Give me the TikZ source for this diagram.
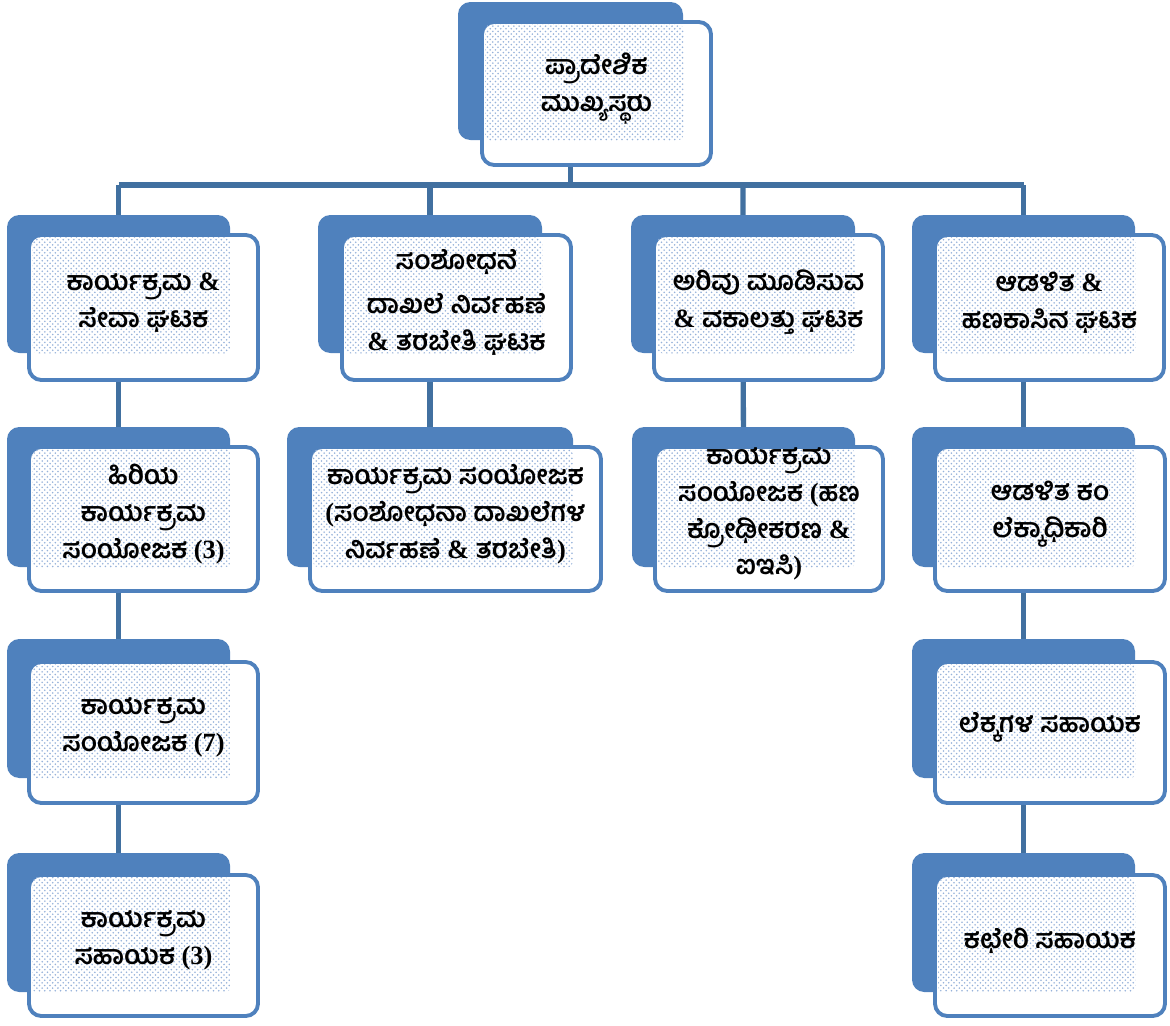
\documentclass[tikz,border=0pt]{standalone}
\usepackage{fontspec}
\usetikzlibrary{calc, positioning, fit, backgrounds, patterns}
\newfontfamily\kannada[Script=Kannada]{Hind Mysuru}
\newfontfamily\timesfont{Liberation Serif}
\newcommand{\lat}[1]{{\timesfont #1}}
\definecolor{boxblue}{RGB}{79,129,189}
\definecolor{lineblue}{RGB}{65,112,160}
\definecolor{dotblue}{RGB}{150,178,218}

\begin{document}
\begin{tikzpicture}[x=0.02cm, y=-0.02cm,
    backbox/.style={fill=boxblue, rounded corners=7pt, inner sep=0pt},
    frontbox/.style={draw=boxblue, line width=2.2pt, fill=white, rounded corners=7pt, inner sep=0pt},
    dotfill/.style={pattern=crosshatch dots, pattern color=dotblue, rounded corners=3pt},
    unittext/.style={font=\kannada\bfseries\fontsize{15}{21}\selectfont, align=center, inner sep=0pt},
    orgline/.style={lineblue, line width=3pt}]
    \useasboundingbox (0,0) rectangle (1170,1025);

    % Regional head
    \node[backbox, fit={(458,2) (683,140)}] (hqb) {};
    \node[frontbox, fit={(482,22) (711,165)}] (hq) {};
    \path[dotfill] ($(hq.north west)+(5,4)$) rectangle (hqb.south east);
    \node[unittext] (hqt) at ($(hq.center)+(0,-5)$) {ಪ್ರಾದೇಶಿಕ\\ಮುಖ್ಯಸ್ಥರು};

    % Units
    \node[backbox, fit={(7,215) (230,353)}] (progb) {};
    \node[frontbox, fit={(29,235) (258,380)}] (prog) {};
    \path[dotfill] ($(prog.north west)+(5,4)$) rectangle (progb.south east);
    \node[unittext] (progt) at ($(prog.center)+(0,-5)$) {ಕಾರ್ಯಕ್ರಮ \lat{\&}\\ಸೇವಾ ಘಟಕ};

    \node[backbox, fit={(318,215) (542,353)}] (resb) {};
    \node[frontbox, fit={(342,235) (571,380)}] (res) {};
    \path[dotfill] ($(res.north west)+(5,4)$) rectangle (resb.south east);
    \node[unittext] (rest) at ($(res.center)+(0,-5)$) {ಸಂಶೋಧನೆ\\[4pt]ದಾಖಲೆ ನಿರ್ವಹಣೆ\\\lat{\&} ತರಬೇತಿ ಘಟಕ};

    \node[backbox, fit={(631,215) (855,353)}] (awareb) {};
    \node[frontbox, fit={(654,235) (883,380)}] (aware) {};
    \path[dotfill] ($(aware.north west)+(5,4)$) rectangle (awareb.south east);
    \node[unittext] (awaret) at ($(aware.center)+(0,-5)$) {ಅರಿವು ಮೂಡಿಸುವ\\\lat{\&} ವಕಾಲತ್ತು ಘಟಕ};

    \node[backbox, fit={(912,215) (1135,353)}] (adminb) {};
    \node[frontbox, fit={(935,235) (1164,380)}] (admin) {};
    \path[dotfill] ($(admin.north west)+(5,4)$) rectangle (adminb.south east);
    \node[unittext] (admint) at ($(admin.center)+(0,-5)$) {ಆಡಳಿತ \lat{\&}\\ಹಣಕಾಸಿನ ಘಟಕ};

    % Second row
    \node[backbox, fit={(7,427) (230,567)}] (sprogb) {};
    \node[frontbox, fit={(29,447) (258,591)}] (sprog) {};
    \path[dotfill] ($(sprog.north west)+(5,4)$) rectangle (sprogb.south east);
    \node[unittext] (sprogt) at ($(sprog.center)+(0,-5)$) {ಹಿರಿಯ\\ಕಾರ್ಯಕ್ರಮ\\ಸಂಯೋಜಕ \lat{(3)}};

    \node[backbox, fit={(287,427) (573,567)}] (rcoordb) {};
    \node[frontbox, fit={(310,447) (601,591)}] (rcoord) {};
    \path[dotfill] ($(rcoord.north west)+(5,4)$) rectangle (rcoordb.south east);
    \node[unittext] (rcoordt) at ($(rcoord.center)+(0,-5)$) {ಕಾರ್ಯಕ್ರಮ ಸಂಯೋಜಕ\\\lat{(}ಸಂಶೋಧನಾ ದಾಖಲೆಗಳ\\ನಿರ್ವಹಣೆ \lat{\&} ತರಬೇತಿ\lat{)}};

    \node[backbox, fit={(632,427) (855,567)}] (fcoordb) {};
    \node[frontbox, fit={(655,447) (883,591)}] (fcoord) {};
    \path[dotfill] ($(fcoord.north west)+(5,4)$) rectangle (fcoordb.south east);
    \node[unittext] (fcoordt) at ($(fcoord.center)+(0,-5)$) {ಕಾರ್ಯಕ್ರಮ\\ಸಂಯೋಜಕ \lat{(}ಹಣ\\ಕ್ರೋಢೀಕರಣ \lat{\&}\\ಐಇಸಿ\lat{)}};

    \node[backbox, fit={(912,427) (1135,567)}] (acctb) {};
    \node[frontbox, fit={(935,447) (1165,591)}] (acct) {};
    \path[dotfill] ($(acct.north west)+(5,4)$) rectangle (acctb.south east);
    \node[unittext] (acctt) at ($(acct.center)+(0,-5)$) {ಆಡಳಿತ ಕಂ\\ಲೆಕ್ಕಾಧಿಕಾರಿ};

    % Third row
    \node[backbox, fit={(7,639) (230,778)}] (pcoordb) {};
    \node[frontbox, fit={(29,662) (258,803)}] (pcoord) {};
    \path[dotfill] ($(pcoord.north west)+(5,4)$) rectangle (pcoordb.south east);
    \node[unittext] (pcoordt) at ($(pcoord.center)+(0,-5)$) {ಕಾರ್ಯಕ್ರಮ\\ಸಂಯೋಜಕ \lat{(7)}};

    \node[backbox, fit={(912,639) (1135,778)}] (accasstb) {};
    \node[frontbox, fit={(935,662) (1165,803)}] (accasst) {};
    \path[dotfill] ($(accasst.north west)+(5,4)$) rectangle (accasstb.south east);
    \node[unittext] (accasstt) at ($(accasst.center)+(0,-5)$) {ಲೆಕ್ಕಗಳ ಸಹಾಯಕ};

    % Fourth row
    \node[backbox, fit={(7,853) (230,992)}] (passtb) {};
    \node[frontbox, fit={(29,875) (258,1016)}] (passt) {};
    \path[dotfill] ($(passt.north west)+(5,4)$) rectangle (passtb.south east);
    \node[unittext] (passtt) at ($(passt.center)+(0,-5)$) {ಕಾರ್ಯಕ್ರಮ\\ಸಹಾಯಕ \lat{(3)}};

    \node[backbox, fit={(912,853) (1135,992)}] (offasstb) {};
    \node[frontbox, fit={(935,875) (1165,1016)}] (offasst) {};
    \path[dotfill] ($(offasst.north west)+(5,4)$) rectangle (offasstb.south east);
    \node[unittext] (offasstt) at ($(offasst.center)+(0,-5)$) {ಕಛೇರಿ ಸಹಾಯಕ};

    % Connectors
    \begin{scope}[on background layer]
        \coordinate (bus) at (0,185);
        \draw[orgline] (hqb.center) -- (hqb.center |- bus);
        \draw[orgline] (progb.center |- bus) -- (adminb.center |- bus);
        \draw[orgline] (progb.center |- bus) -- (passtb.center);
        \draw[orgline] (resb.center |- bus) -- (rcoordb.center);
        \draw[orgline] (awareb.center |- bus) -- (fcoordb.center);
        \draw[orgline] (adminb.center |- bus) -- (offasstb.center);
    \end{scope}
\end{tikzpicture}
\end{document}
